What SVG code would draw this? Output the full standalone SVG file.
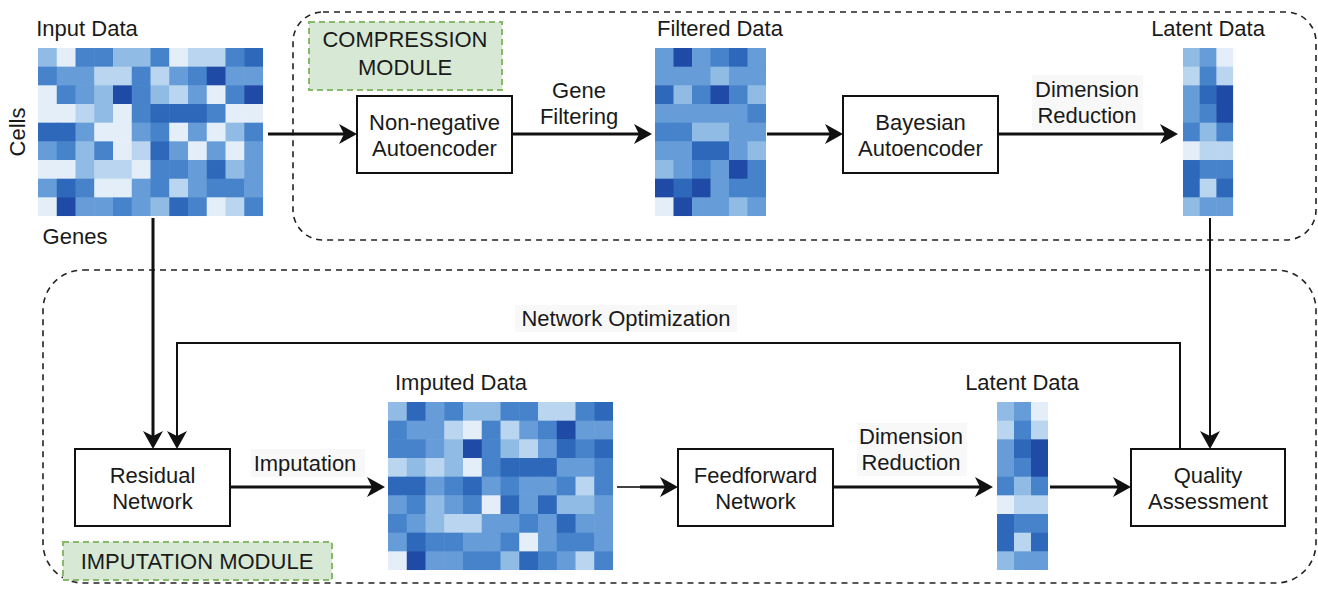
<svg xmlns="http://www.w3.org/2000/svg" width="1318" height="591" viewBox="0 0 1318 591">
<style>
  text { font-family: "Liberation Sans", Arial, sans-serif; font-size: 22px; fill: #1a1a1a; }
  .mid { text-anchor: middle; }
  .box { fill: #ffffff; stroke: #111111; stroke-width: 2; }
  .module { fill: none; stroke: #222222; stroke-width: 1.6; stroke-dasharray: 6 5; }
  .tag { fill: #d7e9d4; stroke: #86b96a; stroke-width: 2; stroke-dasharray: 6 4; }
  .lblbg { fill: #f8f8f8; }
  .flow { fill: none; stroke: #111111; stroke-width: 3; marker-end: url(#arrow); }
  .fb { fill: none; stroke: #111111; stroke-width: 2; marker-end: url(#arrow); }
  .l0 { fill: #e4eef9; } .l1 { fill: #bad5ef; } .l2 { fill: #90bbe5; }
  .l3 { fill: #669cd7; } .l4 { fill: #4683cb; } .l5 { fill: #2e68ba; } .l6 { fill: #1f4aa6; }
</style>
<defs>
  <marker id="arrow" viewBox="0 0 18 20" refX="13" refY="10" markerWidth="18" markerHeight="20" markerUnits="userSpaceOnUse" orient="auto">
    <path d="M0,0 L18,10 L0,20 L5,10 Z" fill="#111111"/>
  </marker>
</defs>
<rect width="1318" height="591" fill="#ffffff"/>

<!-- module frames -->
<g id="compression-module">
  <rect class="module" x="293" y="12" width="1023" height="228" rx="30"/>
  <rect class="tag" x="309" y="22" width="193" height="68"/>
  <text class="mid" x="405" y="47">COMPRESSION</text>
  <text class="mid" x="405" y="75">MODULE</text>
</g>
<g id="imputation-module">
  <rect class="module" x="43" y="270" width="1273" height="313" rx="40"/>
  <rect class="tag" x="63" y="542" width="269" height="38"/>
  <text class="mid" x="197" y="569">IMPUTATION MODULE</text>
</g>

<!-- input matrix: 12 genes x 9 cells -->
<g id="input-data">
  <text class="mid" x="87" y="36">Input Data</text>
  <text class="mid" transform="translate(25,132) rotate(-90)">Cells</text>
  <text class="mid" x="75" y="244">Genes</text>
  <g transform="translate(38,48) scale(18.75,18.67)">
    <rect x="0" y="0" width="1.03" height="1.03" class="l2"/><rect x="1" y="0" width="1.03" height="1.03" class="l0"/><rect x="2" y="0" width="1.03" height="1.03" class="l4"/><rect x="3" y="0" width="1.03" height="1.03" class="l4"/><rect x="4" y="0" width="1.03" height="1.03" class="l2"/><rect x="5" y="0" width="1.03" height="1.03" class="l2"/><rect x="6" y="0" width="1.03" height="1.03" class="l4"/><rect x="7" y="0" width="1.03" height="1.03" class="l0"/><rect x="8" y="0" width="1.03" height="1.03" class="l1"/><rect x="9" y="0" width="1.03" height="1.03" class="l1"/><rect x="10" y="0" width="1.03" height="1.03" class="l4"/><rect x="11" y="0" width="1" height="1.03" class="l5"/>
    <rect x="0" y="1" width="1.03" height="1.03" class="l4"/><rect x="1" y="1" width="1.03" height="1.03" class="l3"/><rect x="2" y="1" width="1.03" height="1.03" class="l3"/><rect x="3" y="1" width="1.03" height="1.03" class="l1"/><rect x="4" y="1" width="1.03" height="1.03" class="l1"/><rect x="5" y="1" width="1.03" height="1.03" class="l4"/><rect x="6" y="1" width="1.03" height="1.03" class="l1"/><rect x="7" y="1" width="1.03" height="1.03" class="l3"/><rect x="8" y="1" width="1.03" height="1.03" class="l4"/><rect x="9" y="1" width="1.03" height="1.03" class="l6"/><rect x="10" y="1" width="1.03" height="1.03" class="l3"/><rect x="11" y="1" width="1" height="1.03" class="l3"/>
    <rect x="0" y="2" width="1.03" height="1.03" class="l0"/><rect x="1" y="2" width="1.03" height="1.03" class="l4"/><rect x="2" y="2" width="1.03" height="1.03" class="l3"/><rect x="3" y="2" width="1.03" height="1.03" class="l2"/><rect x="4" y="2" width="1.03" height="1.03" class="l6"/><rect x="5" y="2" width="1.03" height="1.03" class="l4"/><rect x="6" y="2" width="1.03" height="1.03" class="l2"/><rect x="7" y="2" width="1.03" height="1.03" class="l1"/><rect x="8" y="2" width="1.03" height="1.03" class="l3"/><rect x="9" y="2" width="1.03" height="1.03" class="l0"/><rect x="10" y="2" width="1.03" height="1.03" class="l4"/><rect x="11" y="2" width="1" height="1.03" class="l6"/>
    <rect x="0" y="3" width="1.03" height="1.03" class="l0"/><rect x="1" y="3" width="1.03" height="1.03" class="l0"/><rect x="2" y="3" width="1.03" height="1.03" class="l1"/><rect x="3" y="3" width="1.03" height="1.03" class="l2"/><rect x="4" y="3" width="1.03" height="1.03" class="l0"/><rect x="5" y="3" width="1.03" height="1.03" class="l4"/><rect x="6" y="3" width="1.03" height="1.03" class="l5"/><rect x="7" y="3" width="1.03" height="1.03" class="l5"/><rect x="8" y="3" width="1.03" height="1.03" class="l5"/><rect x="9" y="3" width="1.03" height="1.03" class="l4"/><rect x="10" y="3" width="1.03" height="1.03" class="l0"/><rect x="11" y="3" width="1" height="1.03" class="l0"/>
    <rect x="0" y="4" width="1.03" height="1.03" class="l5"/><rect x="1" y="4" width="1.03" height="1.03" class="l5"/><rect x="2" y="4" width="1.03" height="1.03" class="l3"/><rect x="3" y="4" width="1.03" height="1.03" class="l0"/><rect x="4" y="4" width="1.03" height="1.03" class="l0"/><rect x="5" y="4" width="1.03" height="1.03" class="l3"/><rect x="6" y="4" width="1.03" height="1.03" class="l4"/><rect x="7" y="4" width="1.03" height="1.03" class="l0"/><rect x="8" y="4" width="1.03" height="1.03" class="l3"/><rect x="9" y="4" width="1.03" height="1.03" class="l0"/><rect x="10" y="4" width="1.03" height="1.03" class="l2"/><rect x="11" y="4" width="1" height="1.03" class="l4"/>
    <rect x="0" y="5" width="1.03" height="1.03" class="l3"/><rect x="1" y="5" width="1.03" height="1.03" class="l4"/><rect x="2" y="5" width="1.03" height="1.03" class="l2"/><rect x="3" y="5" width="1.03" height="1.03" class="l4"/><rect x="4" y="5" width="1.03" height="1.03" class="l0"/><rect x="5" y="5" width="1.03" height="1.03" class="l1"/><rect x="6" y="5" width="1.03" height="1.03" class="l5"/><rect x="7" y="5" width="1.03" height="1.03" class="l3"/><rect x="8" y="5" width="1.03" height="1.03" class="l0"/><rect x="9" y="5" width="1.03" height="1.03" class="l3"/><rect x="10" y="5" width="1.03" height="1.03" class="l0"/><rect x="11" y="5" width="1" height="1.03" class="l3"/>
    <rect x="0" y="6" width="1.03" height="1.03" class="l0"/><rect x="1" y="6" width="1.03" height="1.03" class="l0"/><rect x="2" y="6" width="1.03" height="1.03" class="l2"/><rect x="3" y="6" width="1.03" height="1.03" class="l1"/><rect x="4" y="6" width="1.03" height="1.03" class="l1"/><rect x="5" y="6" width="1.03" height="1.03" class="l0"/><rect x="6" y="6" width="1.03" height="1.03" class="l4"/><rect x="7" y="6" width="1.03" height="1.03" class="l4"/><rect x="8" y="6" width="1.03" height="1.03" class="l3"/><rect x="9" y="6" width="1.03" height="1.03" class="l5"/><rect x="10" y="6" width="1.03" height="1.03" class="l2"/><rect x="11" y="6" width="1" height="1.03" class="l3"/>
    <rect x="0" y="7" width="1.03" height="1.03" class="l3"/><rect x="1" y="7" width="1.03" height="1.03" class="l5"/><rect x="2" y="7" width="1.03" height="1.03" class="l4"/><rect x="3" y="7" width="1.03" height="1.03" class="l0"/><rect x="4" y="7" width="1.03" height="1.03" class="l0"/><rect x="5" y="7" width="1.03" height="1.03" class="l3"/><rect x="6" y="7" width="1.03" height="1.03" class="l4"/><rect x="7" y="7" width="1.03" height="1.03" class="l1"/><rect x="8" y="7" width="1.03" height="1.03" class="l3"/><rect x="9" y="7" width="1.03" height="1.03" class="l4"/><rect x="10" y="7" width="1.03" height="1.03" class="l4"/><rect x="11" y="7" width="1" height="1.03" class="l3"/>
    <rect x="0" y="8" width="1.03" height="1" class="l0"/><rect x="1" y="8" width="1.03" height="1" class="l6"/><rect x="2" y="8" width="1.03" height="1" class="l3"/><rect x="3" y="8" width="1.03" height="1" class="l3"/><rect x="4" y="8" width="1.03" height="1" class="l4"/><rect x="5" y="8" width="1.03" height="1" class="l3"/><rect x="6" y="8" width="1.03" height="1" class="l2"/><rect x="7" y="8" width="1.03" height="1" class="l5"/><rect x="8" y="8" width="1.03" height="1" class="l4"/><rect x="9" y="8" width="1.03" height="1" class="l0"/><rect x="10" y="8" width="1.03" height="1" class="l1"/><rect x="11" y="8" width="1" height="1" class="l4"/>
  </g>
</g>

<!-- filtered matrix: 6 genes x 9 cells -->
<g id="filtered-data">
  <text class="mid" x="720" y="36">Filtered Data</text>
  <g transform="translate(655,48) scale(18.5,18.67)">
    <rect x="0" y="0" width="1.03" height="1.03" class="l3"/><rect x="1" y="0" width="1.03" height="1.03" class="l6"/><rect x="2" y="0" width="1.03" height="1.03" class="l3"/><rect x="3" y="0" width="1.03" height="1.03" class="l4"/><rect x="4" y="0" width="1.03" height="1.03" class="l5"/><rect x="5" y="0" width="1" height="1.03" class="l3"/>
    <rect x="0" y="1" width="1.03" height="1.03" class="l3"/><rect x="1" y="1" width="1.03" height="1.03" class="l3"/><rect x="2" y="1" width="1.03" height="1.03" class="l3"/><rect x="3" y="1" width="1.03" height="1.03" class="l2"/><rect x="4" y="1" width="1.03" height="1.03" class="l3"/><rect x="5" y="1" width="1" height="1.03" class="l3"/>
    <rect x="0" y="2" width="1.03" height="1.03" class="l5"/><rect x="1" y="2" width="1.03" height="1.03" class="l2"/><rect x="2" y="2" width="1.03" height="1.03" class="l4"/><rect x="3" y="2" width="1.03" height="1.03" class="l6"/><rect x="4" y="2" width="1.03" height="1.03" class="l4"/><rect x="5" y="2" width="1" height="1.03" class="l2"/>
    <rect x="0" y="3" width="1.03" height="1.03" class="l3"/><rect x="1" y="3" width="1.03" height="1.03" class="l3"/><rect x="2" y="3" width="1.03" height="1.03" class="l3"/><rect x="3" y="3" width="1.03" height="1.03" class="l3"/><rect x="4" y="3" width="1.03" height="1.03" class="l3"/><rect x="5" y="3" width="1" height="1.03" class="l4"/>
    <rect x="0" y="4" width="1.03" height="1.03" class="l4"/><rect x="1" y="4" width="1.03" height="1.03" class="l4"/><rect x="2" y="4" width="1.03" height="1.03" class="l2"/><rect x="3" y="4" width="1.03" height="1.03" class="l2"/><rect x="4" y="4" width="1.03" height="1.03" class="l3"/><rect x="5" y="4" width="1" height="1.03" class="l3"/>
    <rect x="0" y="5" width="1.03" height="1.03" class="l3"/><rect x="1" y="5" width="1.03" height="1.03" class="l3"/><rect x="2" y="5" width="1.03" height="1.03" class="l5"/><rect x="3" y="5" width="1.03" height="1.03" class="l5"/><rect x="4" y="5" width="1.03" height="1.03" class="l3"/><rect x="5" y="5" width="1" height="1.03" class="l2"/>
    <rect x="0" y="6" width="1.03" height="1.03" class="l2"/><rect x="1" y="6" width="1.03" height="1.03" class="l3"/><rect x="2" y="6" width="1.03" height="1.03" class="l4"/><rect x="3" y="6" width="1.03" height="1.03" class="l3"/><rect x="4" y="6" width="1.03" height="1.03" class="l6"/><rect x="5" y="6" width="1" height="1.03" class="l4"/>
    <rect x="0" y="7" width="1.03" height="1.03" class="l6"/><rect x="1" y="7" width="1.03" height="1.03" class="l5"/><rect x="2" y="7" width="1.03" height="1.03" class="l6"/><rect x="3" y="7" width="1.03" height="1.03" class="l3"/><rect x="4" y="7" width="1.03" height="1.03" class="l4"/><rect x="5" y="7" width="1" height="1.03" class="l4"/>
    <rect x="0" y="8" width="1.03" height="1" class="l0"/><rect x="1" y="8" width="1.03" height="1" class="l6"/><rect x="2" y="8" width="1.03" height="1" class="l3"/><rect x="3" y="8" width="1.03" height="1" class="l3"/><rect x="4" y="8" width="1.03" height="1" class="l2"/><rect x="5" y="8" width="1" height="1" class="l3"/>
  </g>
</g>

<!-- latent matrix (compression) -->
<g id="latent-data-top">
  <text class="mid" x="1208" y="36">Latent Data</text>
  <g transform="translate(1183,48) scale(16.7,18.67)">
    <rect x="0" y="0" width="1.03" height="1.03" class="l2"/><rect x="1" y="0" width="1.03" height="1.03" class="l3"/><rect x="2" y="0" width="1" height="1.03" class="l0"/>
    <rect x="0" y="1" width="1.03" height="1.03" class="l1"/><rect x="1" y="1" width="1.03" height="1.03" class="l4"/><rect x="2" y="1" width="1" height="1.03" class="l1"/>
    <rect x="0" y="2" width="1.03" height="1.03" class="l3"/><rect x="1" y="2" width="1.03" height="1.03" class="l5"/><rect x="2" y="2" width="1" height="1.03" class="l6"/>
    <rect x="0" y="3" width="1.03" height="1.03" class="l3"/><rect x="1" y="3" width="1.03" height="1.03" class="l4"/><rect x="2" y="3" width="1" height="1.03" class="l6"/>
    <rect x="0" y="4" width="1.03" height="1.03" class="l4"/><rect x="1" y="4" width="1.03" height="1.03" class="l2"/><rect x="2" y="4" width="1" height="1.03" class="l4"/>
    <rect x="0" y="5" width="1.03" height="1.03" class="l0"/><rect x="1" y="5" width="1.03" height="1.03" class="l1"/><rect x="2" y="5" width="1" height="1.03" class="l1"/>
    <rect x="0" y="6" width="1.03" height="1.03" class="l5"/><rect x="1" y="6" width="1.03" height="1.03" class="l4"/><rect x="2" y="6" width="1" height="1.03" class="l4"/>
    <rect x="0" y="7" width="1.03" height="1.03" class="l5"/><rect x="1" y="7" width="1.03" height="1.03" class="l1"/><rect x="2" y="7" width="1" height="1.03" class="l5"/>
    <rect x="0" y="8" width="1.03" height="1" class="l2"/><rect x="1" y="8" width="1.03" height="1" class="l3"/><rect x="2" y="8" width="1" height="1" class="l3"/>
  </g>
</g>

<!-- imputed matrix -->
<g id="imputed-data">
  <text class="mid" x="461" y="390">Imputed Data</text>
  <g transform="translate(388,402) scale(18.75,18.67)">
    <rect x="0" y="0" width="1.03" height="1.03" class="l2"/><rect x="1" y="0" width="1.03" height="1.03" class="l5"/><rect x="2" y="0" width="1.03" height="1.03" class="l3"/><rect x="3" y="0" width="1.03" height="1.03" class="l4"/><rect x="4" y="0" width="1.03" height="1.03" class="l2"/><rect x="5" y="0" width="1.03" height="1.03" class="l2"/><rect x="6" y="0" width="1.03" height="1.03" class="l4"/><rect x="7" y="0" width="1.03" height="1.03" class="l4"/><rect x="8" y="0" width="1.03" height="1.03" class="l1"/><rect x="9" y="0" width="1.03" height="1.03" class="l1"/><rect x="10" y="0" width="1.03" height="1.03" class="l4"/><rect x="11" y="0" width="1" height="1.03" class="l5"/>
    <rect x="0" y="1" width="1.03" height="1.03" class="l4"/><rect x="1" y="1" width="1.03" height="1.03" class="l3"/><rect x="2" y="1" width="1.03" height="1.03" class="l3"/><rect x="3" y="1" width="1.03" height="1.03" class="l1"/><rect x="4" y="1" width="1.03" height="1.03" class="l0"/><rect x="5" y="1" width="1.03" height="1.03" class="l4"/><rect x="6" y="1" width="1.03" height="1.03" class="l1"/><rect x="7" y="1" width="1.03" height="1.03" class="l3"/><rect x="8" y="1" width="1.03" height="1.03" class="l4"/><rect x="9" y="1" width="1.03" height="1.03" class="l6"/><rect x="10" y="1" width="1.03" height="1.03" class="l3"/><rect x="11" y="1" width="1" height="1.03" class="l3"/>
    <rect x="0" y="2" width="1.03" height="1.03" class="l4"/><rect x="1" y="2" width="1.03" height="1.03" class="l4"/><rect x="2" y="2" width="1.03" height="1.03" class="l3"/><rect x="3" y="2" width="1.03" height="1.03" class="l2"/><rect x="4" y="2" width="1.03" height="1.03" class="l6"/><rect x="5" y="2" width="1.03" height="1.03" class="l4"/><rect x="6" y="2" width="1.03" height="1.03" class="l2"/><rect x="7" y="2" width="1.03" height="1.03" class="l1"/><rect x="8" y="2" width="1.03" height="1.03" class="l3"/><rect x="9" y="2" width="1.03" height="1.03" class="l5"/><rect x="10" y="2" width="1.03" height="1.03" class="l4"/><rect x="11" y="2" width="1" height="1.03" class="l5"/>
    <rect x="0" y="3" width="1.03" height="1.03" class="l1"/><rect x="1" y="3" width="1.03" height="1.03" class="l2"/><rect x="2" y="3" width="1.03" height="1.03" class="l1"/><rect x="3" y="3" width="1.03" height="1.03" class="l2"/><rect x="4" y="3" width="1.03" height="1.03" class="l0"/><rect x="5" y="3" width="1.03" height="1.03" class="l4"/><rect x="6" y="3" width="1.03" height="1.03" class="l5"/><rect x="7" y="3" width="1.03" height="1.03" class="l5"/><rect x="8" y="3" width="1.03" height="1.03" class="l5"/><rect x="9" y="3" width="1.03" height="1.03" class="l3"/><rect x="10" y="3" width="1.03" height="1.03" class="l3"/><rect x="11" y="3" width="1" height="1.03" class="l4"/>
    <rect x="0" y="4" width="1.03" height="1.03" class="l5"/><rect x="1" y="4" width="1.03" height="1.03" class="l5"/><rect x="2" y="4" width="1.03" height="1.03" class="l3"/><rect x="3" y="4" width="1.03" height="1.03" class="l4"/><rect x="4" y="4" width="1.03" height="1.03" class="l5"/><rect x="5" y="4" width="1.03" height="1.03" class="l3"/><rect x="6" y="4" width="1.03" height="1.03" class="l4"/><rect x="7" y="4" width="1.03" height="1.03" class="l3"/><rect x="8" y="4" width="1.03" height="1.03" class="l3"/><rect x="9" y="4" width="1.03" height="1.03" class="l4"/><rect x="10" y="4" width="1.03" height="1.03" class="l1"/><rect x="11" y="4" width="1" height="1.03" class="l4"/>
    <rect x="0" y="5" width="1.03" height="1.03" class="l3"/><rect x="1" y="5" width="1.03" height="1.03" class="l4"/><rect x="2" y="5" width="1.03" height="1.03" class="l2"/><rect x="3" y="5" width="1.03" height="1.03" class="l3"/><rect x="4" y="5" width="1.03" height="1.03" class="l4"/><rect x="5" y="5" width="1.03" height="1.03" class="l0"/><rect x="6" y="5" width="1.03" height="1.03" class="l5"/><rect x="7" y="5" width="1.03" height="1.03" class="l3"/><rect x="8" y="5" width="1.03" height="1.03" class="l5"/><rect x="9" y="5" width="1.03" height="1.03" class="l2"/><rect x="10" y="5" width="1.03" height="1.03" class="l2"/><rect x="11" y="5" width="1" height="1.03" class="l3"/>
    <rect x="0" y="6" width="1.03" height="1.03" class="l4"/><rect x="1" y="6" width="1.03" height="1.03" class="l3"/><rect x="2" y="6" width="1.03" height="1.03" class="l2"/><rect x="3" y="6" width="1.03" height="1.03" class="l1"/><rect x="4" y="6" width="1.03" height="1.03" class="l1"/><rect x="5" y="6" width="1.03" height="1.03" class="l3"/><rect x="6" y="6" width="1.03" height="1.03" class="l3"/><rect x="7" y="6" width="1.03" height="1.03" class="l4"/><rect x="8" y="6" width="1.03" height="1.03" class="l3"/><rect x="9" y="6" width="1.03" height="1.03" class="l5"/><rect x="10" y="6" width="1.03" height="1.03" class="l3"/><rect x="11" y="6" width="1" height="1.03" class="l3"/>
    <rect x="0" y="7" width="1.03" height="1.03" class="l3"/><rect x="1" y="7" width="1.03" height="1.03" class="l5"/><rect x="2" y="7" width="1.03" height="1.03" class="l4"/><rect x="3" y="7" width="1.03" height="1.03" class="l4"/><rect x="4" y="7" width="1.03" height="1.03" class="l3"/><rect x="5" y="7" width="1.03" height="1.03" class="l3"/><rect x="6" y="7" width="1.03" height="1.03" class="l4"/><rect x="7" y="7" width="1.03" height="1.03" class="l0"/><rect x="8" y="7" width="1.03" height="1.03" class="l3"/><rect x="9" y="7" width="1.03" height="1.03" class="l4"/><rect x="10" y="7" width="1.03" height="1.03" class="l4"/><rect x="11" y="7" width="1" height="1.03" class="l3"/>
    <rect x="0" y="8" width="1.03" height="1" class="l0"/><rect x="1" y="8" width="1.03" height="1" class="l6"/><rect x="2" y="8" width="1.03" height="1" class="l3"/><rect x="3" y="8" width="1.03" height="1" class="l3"/><rect x="4" y="8" width="1.03" height="1" class="l4"/><rect x="5" y="8" width="1.03" height="1" class="l4"/><rect x="6" y="8" width="1.03" height="1" class="l2"/><rect x="7" y="8" width="1.03" height="1" class="l5"/><rect x="8" y="8" width="1.03" height="1" class="l4"/><rect x="9" y="8" width="1.03" height="1" class="l3"/><rect x="10" y="8" width="1.03" height="1" class="l1"/><rect x="11" y="8" width="1" height="1" class="l4"/>
  </g>
</g>

<!-- latent matrix (imputation) -->
<g id="latent-data-bottom">
  <text class="mid" x="1022" y="390">Latent Data</text>
  <g transform="translate(997,402) scale(17,18.67)">
    <rect x="0" y="0" width="1.03" height="1.03" class="l2"/><rect x="1" y="0" width="1.03" height="1.03" class="l3"/><rect x="2" y="0" width="1" height="1.03" class="l0"/>
    <rect x="0" y="1" width="1.03" height="1.03" class="l1"/><rect x="1" y="1" width="1.03" height="1.03" class="l4"/><rect x="2" y="1" width="1" height="1.03" class="l1"/>
    <rect x="0" y="2" width="1.03" height="1.03" class="l3"/><rect x="1" y="2" width="1.03" height="1.03" class="l5"/><rect x="2" y="2" width="1" height="1.03" class="l6"/>
    <rect x="0" y="3" width="1.03" height="1.03" class="l3"/><rect x="1" y="3" width="1.03" height="1.03" class="l4"/><rect x="2" y="3" width="1" height="1.03" class="l6"/>
    <rect x="0" y="4" width="1.03" height="1.03" class="l4"/><rect x="1" y="4" width="1.03" height="1.03" class="l2"/><rect x="2" y="4" width="1" height="1.03" class="l4"/>
    <rect x="0" y="5" width="1.03" height="1.03" class="l0"/><rect x="1" y="5" width="1.03" height="1.03" class="l1"/><rect x="2" y="5" width="1" height="1.03" class="l1"/>
    <rect x="0" y="6" width="1.03" height="1.03" class="l5"/><rect x="1" y="6" width="1.03" height="1.03" class="l4"/><rect x="2" y="6" width="1" height="1.03" class="l4"/>
    <rect x="0" y="7" width="1.03" height="1.03" class="l5"/><rect x="1" y="7" width="1.03" height="1.03" class="l1"/><rect x="2" y="7" width="1" height="1.03" class="l5"/>
    <rect x="0" y="8" width="1.03" height="1" class="l2"/><rect x="1" y="8" width="1.03" height="1" class="l3"/><rect x="2" y="8" width="1" height="1" class="l3"/>
  </g>
</g>

<!-- processing blocks -->
<g id="non-negative-autoencoder">
  <rect class="box" x="357" y="96" width="155" height="77"/>
  <text class="mid" x="434.5" y="130">Non-negative</text>
  <text class="mid" x="434.5" y="156">Autoencoder</text>
</g>
<g id="bayesian-autoencoder">
  <rect class="box" x="843" y="96" width="155" height="77"/>
  <text class="mid" x="920.5" y="130">Bayesian</text>
  <text class="mid" x="920.5" y="156">Autoencoder</text>
</g>
<g id="residual-network">
  <rect class="box" x="75" y="449" width="155" height="77"/>
  <text class="mid" x="152.5" y="483">Residual</text>
  <text class="mid" x="152.5" y="509">Network</text>
</g>
<g id="feedforward-network">
  <rect class="box" x="678" y="449" width="155" height="77"/>
  <text class="mid" x="755.5" y="483">Feedforward</text>
  <text class="mid" x="755.5" y="509">Network</text>
</g>
<g id="quality-assessment">
  <rect class="box" x="1131" y="449" width="154" height="77"/>
  <text class="mid" x="1208" y="483">Quality</text>
  <text class="mid" x="1208" y="509">Assessment</text>
</g>

<!-- connectors and their labels -->
<g id="connectors">
  <path class="flow" d="M268,134 H352"/>
  <path class="flow" d="M512,134 H647"/>
  <path class="flow" d="M767,134 H838"/>
  <path class="flow" d="M998,134 H1173"/>
  <path class="flow" d="M153,218 V444"/>
  <path class="fb" d="M1180,449 V343 H177 V444"/>
  <path class="fb" d="M1210,218 V444"/>
  <path class="flow" d="M230,487 H380"/>
  <path d="M617,487 H642" stroke="#111111" stroke-width="1.6" fill="none"/>
  <path class="flow" d="M640,487 H673"/>
  <path class="flow" d="M833,487 H988"/>
  <path class="flow" d="M1050,487 H1126"/>

  <text class="mid" x="579" y="98">Gene</text>
  <text class="mid" x="579" y="124">Filtering</text>
  <rect class="lblbg" x="1032" y="75" width="111" height="55"/>
  <text class="mid" x="1087" y="97">Dimension</text>
  <text class="mid" x="1087" y="123">Reduction</text>
  <rect class="lblbg" x="515" y="305" width="222" height="27"/>
  <text class="mid" x="626" y="326">Network Optimization</text>
  <rect class="lblbg" x="251" y="449" width="114" height="28"/>
  <text class="mid" x="305" y="471">Imputation</text>
  <rect class="lblbg" x="857" y="423" width="110" height="53"/>
  <text class="mid" x="911" y="444">Dimension</text>
  <text class="mid" x="911" y="470">Reduction</text>
</g>
</svg>
